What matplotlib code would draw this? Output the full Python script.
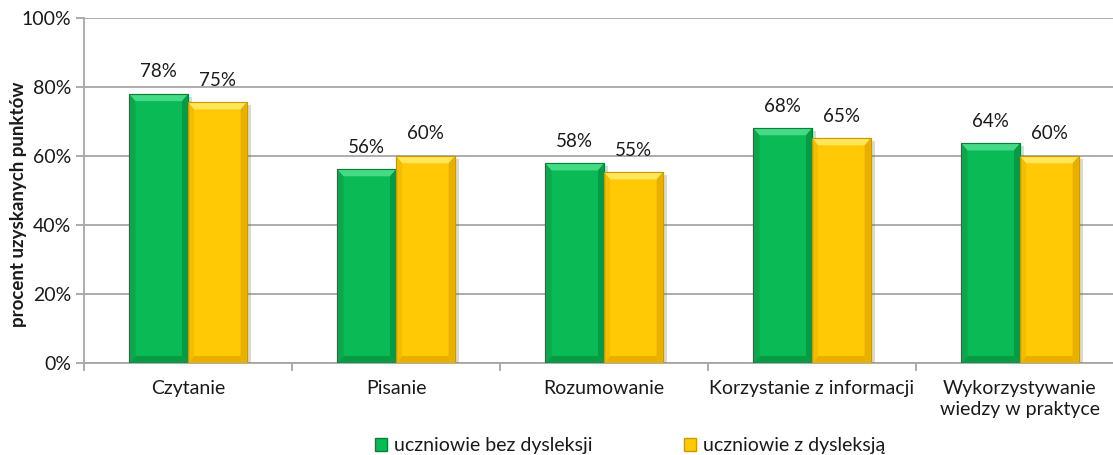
import matplotlib
matplotlib.use("Agg")
import matplotlib.pyplot as plt
from matplotlib.patches import Polygon, Patch
import matplotlib.patheffects as pe
import numpy as np

categories = ["Czytanie", "Pisanie", "Rozumowanie", "Korzystanie z informacji",
              "Wykorzystywanie\nwiedzy w praktyce"]
bez_dysleksji = [78.0, 56.2, 57.9, 68.1, 63.7]
z_dysleksja = [75.6, 60.0, 55.3, 65.2, 60.0]
labels_bez = ["78%", "56%", "58%", "68%", "64%"]
labels_z = ["75%", "60%", "55%", "65%", "60%"]
series_names = ["uczniowie bez dysleksji", "uczniowie z dysleksją"]
yticks = [0, 20, 40, 60, 80, 100]
ylabel = "procent uzyskanych punktów"

plt.rcParams['font.family'] = ['Lato', 'DejaVu Sans']

W, H = 1113, 455
fig = plt.figure(figsize=(W / 100, H / 100), dpi=100)
ax = fig.add_axes([84 / W, (H - 363) / H, 1040 / W, (363 - 18.3) / H])
ax.set_xlim(-0.5, 4.5)
ax.set_ylim(0, 100)

x = np.arange(len(categories))
bw = 0.282

styles = [
    dict(main="#0ABA55", edge="#07803A", light="#45DA85", dark="#089A45", side="#09A84C"),
    dict(main="#FFC905", edge="#C89A00", light="#FFE65A", dark="#E8AE00", side="#F5BC00"),
]

gridc = "#A6A6A6"
txtc = "#1a1a1a"
ax.set_axisbelow(True)
ax.yaxis.grid(True, color=gridc, linewidth=1.3)
for s in ["top", "right"]:
    ax.spines[s].set_visible(False)
for s in ["left", "bottom"]:
    ax.spines[s].set_color(gridc)
    ax.spines[s].set_linewidth(1.3)

ax.set_yticks(yticks)
ax.set_yticklabels([f"{v}%" for v in yticks], fontsize=14, color=txtc)
ax.tick_params(axis="y", length=6, width=1.3, color=gridc, pad=3)
ax.set_xticks(x)
ax.set_xticklabels(categories, fontsize=14, color=txtc, linespacing=1.3)
ax.tick_params(axis="x", which="major", length=0, pad=12)
ax.set_xticks(np.arange(-0.5, 5.0, 1.0), minor=True)
ax.tick_params(axis="x", which="minor", length=6, width=1.3, color=gridc)
fig.text(19 / W, 1 - 204 / H, ylabel, rotation=90, ha="center", va="center",
         fontsize=13.5, fontweight="bold", color=txtc)

bx = 6 / 208.0   # bevel width in data units (x)
by = 7 / 344.0 * 100  # bevel height in data units (y)

for si, (vals, labs) in enumerate([(bez_dysleksji, labels_bez), (z_dysleksja, labels_z)]):
    st = styles[si]
    offs = (si - 0.5) * bw
    bars = ax.bar(x + offs, vals, width=bw, color=st["main"], edgecolor=st["edge"],
                  linewidth=0.8, zorder=3)
    for b, lab in zip(bars, labs):
        b.set_path_effects([pe.SimplePatchShadow(offset=(3, -2), alpha=0.22, shadow_rgbFace="#555555"),
                            pe.Normal()])
        x0, y0 = b.get_x(), b.get_y()
        x1, y1 = x0 + b.get_width(), y0 + b.get_height()
        ax.add_patch(Polygon([(x0, y1), (x1, y1), (x1 - bx, y1 - by), (x0 + bx, y1 - by)],
                             closed=True, facecolor=st["light"], edgecolor="none", zorder=4))
        ax.add_patch(Polygon([(x0, y0), (x1, y0), (x1 - bx, y0 + by), (x0 + bx, y0 + by)],
                             closed=True, facecolor=st["dark"], edgecolor="none", zorder=4))
        ax.add_patch(Polygon([(x0, y0), (x0 + bx, y0 + by), (x0 + bx, y1 - by), (x0, y1)],
                             closed=True, facecolor=st["side"], edgecolor="none", zorder=4))
        ax.add_patch(Polygon([(x1, y0), (x1 - bx, y0 + by), (x1 - bx, y1 - by), (x1, y1)],
                             closed=True, facecolor=st["dark"], edgecolor="none", zorder=4))
        ax.add_patch(Polygon([(x0, y0), (x1, y0), (x1, y1), (x0, y1)], closed=True,
                             facecolor="none", edgecolor=st["edge"], linewidth=0.8, zorder=5))
        ax.annotate(lab, (b.get_x() + b.get_width() / 2, y1), xytext=(0, 16),
                    textcoords="offset points", ha="center", va="center",
                    fontsize=13.5, color=txtc, zorder=6)

handles = [Patch(facecolor=styles[i]["main"], edgecolor=styles[i]["edge"]) for i in range(2)]
fig.legend(handles, series_names, loc="center", bbox_to_anchor=(630 / W, 1 - 446 / H),
           ncol=2, frameon=False, fontsize=14, handlelength=0.62, handleheight=0.62,
           handletextpad=0.35, columnspacing=4.7, borderpad=0, labelcolor=txtc)

fig.savefig("out.png", dpi=100)
